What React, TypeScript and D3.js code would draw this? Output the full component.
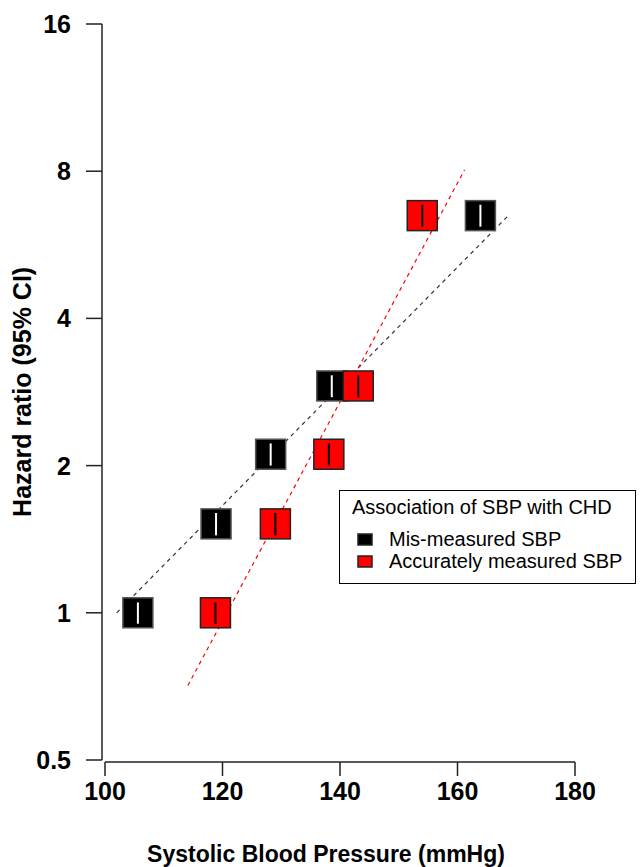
import React from 'react';
import * as d3 from 'd3';

// Hazard ratios by SBP category (same HR for both series, SBP position differs)
const hazardRatios = [1.0, 1.52, 2.11, 2.91, 6.49];
const ciLower = [0.95, 1.44, 2.0, 2.76, 6.16];
const ciUpper = [1.05, 1.6, 2.22, 3.06, 6.83];
const sbpMisMeasured = [105.6, 118.9, 128.2, 138.6, 163.9];
const sbpAccurate = [118.8, 129.0, 138.1, 143.1, 154.0];

// fitted trend lines: [sbp, hr] end points
const fitMisMeasured = [[102.0, 1.0], [168.7, 6.5]];
const fitAccurate = [[114.1, 0.71], [161.2, 8.05]];

const xTicks = [100, 120, 140, 160, 180];
const yTicks = [0.5, 1, 2, 4, 8, 16];

const legendTitle = 'Association of SBP with CHD';
const legendLabels = ['Mis-measured SBP', 'Accurately measured SBP'];

const width = 640;
const height = 867;

export default function App() {
  const x = d3.scaleLinear().domain([100, 180]).range([105, 575]);
  const y = d3.scaleLog().base(2).domain([0.5, 16]).range([760, 24]);
  const line = d3.line<number[]>().x(d => x(d[0])).y(d => y(d[1]));

  const sq = 30;
  const series = [
    { sbp: sbpMisMeasured, fill: '#000000', stroke: '#555555', bar: '#ffffff' },
    { sbp: sbpAccurate, fill: '#ff0000', stroke: '#222222', bar: '#000000' },
  ];

  const font = 'Liberation Sans, Arial, sans-serif';

  return (
    <div style={{ position: 'fixed', left: 0, top: 0 }}>
      <svg width={width} height={height} style={{ display: 'block', background: '#fff' }} fontFamily={font}>
        {/* y axis */}
        <line x1={102} x2={102} y1={y(16)} y2={y(0.5)} stroke="#222" strokeWidth={1.5} />
        {yTicks.map(t => (
          <g key={t}>
            <line x1={86} x2={102} y1={y(t)} y2={y(t)} stroke="#222" strokeWidth={1.5} />
            <text x={71} y={y(t)} dy="0.36em" textAnchor="end" fontWeight="bold" fontSize={25} fill="#000">
              {t}
            </text>
          </g>
        ))}
        {/* x axis */}
        <line x1={x(100)} x2={x(180)} y1={762} y2={762} stroke="#222" strokeWidth={1.5} />
        {xTicks.map(t => (
          <g key={t}>
            <line x1={x(t)} x2={x(t)} y1={762} y2={776} stroke="#222" strokeWidth={1.5} />
            <text x={x(t)} y={800} textAnchor="middle" fontWeight="bold" fontSize={25} fill="#000">
              {t}
            </text>
          </g>
        ))}
        <text x={326} y={862} textAnchor="middle" fontWeight="bold" fontSize={23} fill="#000">
          Systolic Blood Pressure (mmHg)
        </text>
        <text
          transform={`translate(31,${y(2.83)}) rotate(-90)`}
          textAnchor="middle"
          fontWeight="bold"
          fontSize={25}
          fill="#000"
        >
          Hazard ratio (95% CI)
        </text>

        {/* fitted lines */}
        <path d={line(fitMisMeasured) || ''} fill="none" stroke="#333" strokeWidth={1.2} strokeDasharray="4,4" />
        <path d={line(fitAccurate) || ''} fill="none" stroke="#ff0000" strokeWidth={1.2} strokeDasharray="4,4" />

        {/* markers */}
        {series.map((s, si) => (
          <g key={si}>
            {s.sbp.map((v, i) => (
              <g key={i}>
                <rect
                  x={x(v) - sq / 2}
                  y={y(hazardRatios[i]) - sq / 2}
                  width={sq}
                  height={sq}
                  fill={s.fill}
                  stroke={s.stroke}
                  strokeWidth={1.5}
                />
                <line
                  x1={x(v)}
                  x2={x(v)}
                  y1={y(ciLower[i])}
                  y2={y(ciUpper[i])}
                  stroke={s.bar}
                  strokeWidth={2}
                />
              </g>
            ))}
          </g>
        ))}

        {/* legend */}
        <rect x={339.5} y={490.5} width={296} height={93} fill="#fff" stroke="#000" strokeWidth={1} />
        <text x={352} y={514} fontSize={20} fill="#000">{legendTitle}</text>
        {legendLabels.map((lab, i) => (
          <g key={lab}>
            <rect
              x={358}
              y={534 + i * 22}
              width={14}
              height={11}
              fill={series[i].fill}
              stroke="#222"
              strokeWidth={1.5}
            />
            <text x={389} y={546 + i * 22} fontSize={20} fill="#000">{lab}</text>
          </g>
        ))}
      </svg>
    </div>
  );
}
